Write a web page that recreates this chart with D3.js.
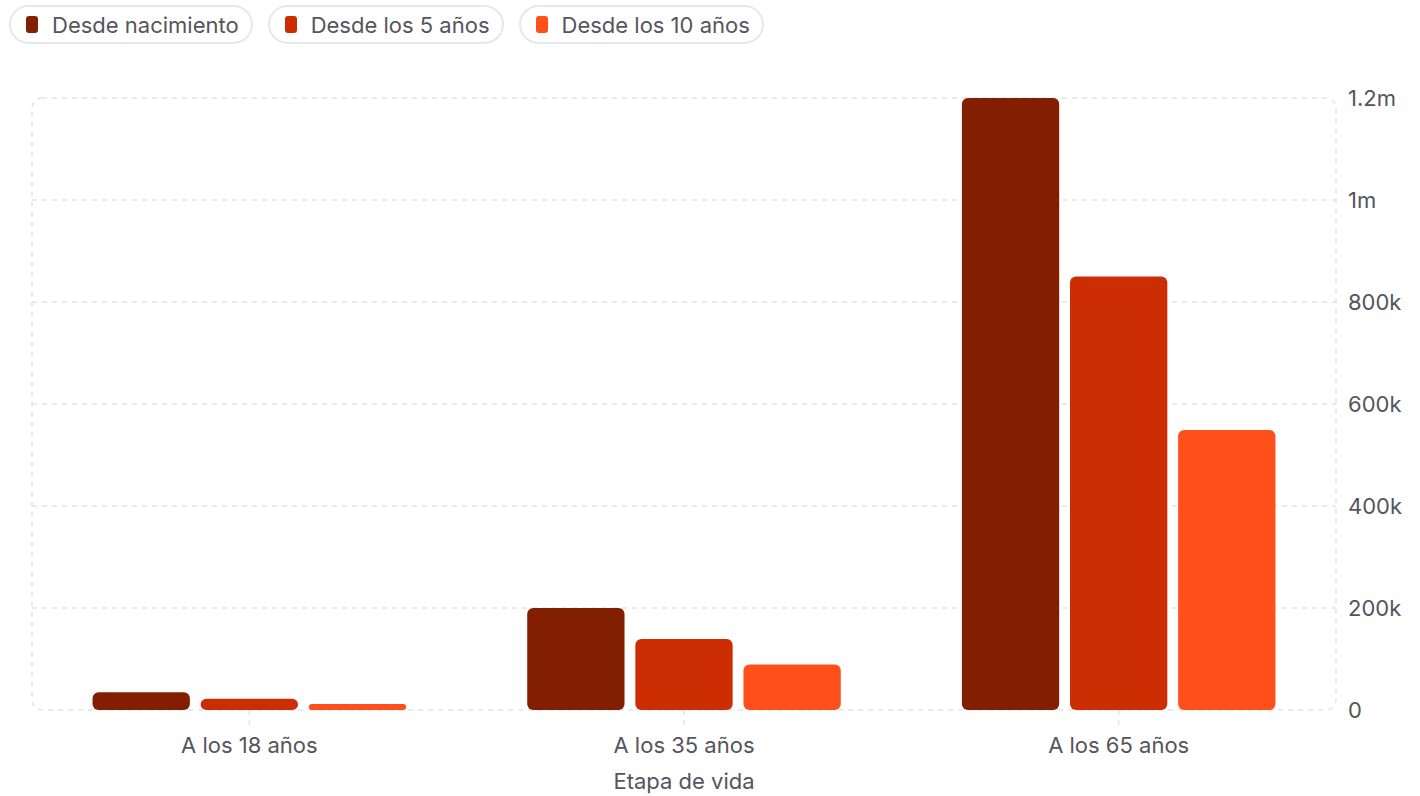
<!DOCTYPE html>
<html>
<head>
<meta charset="utf-8">
<script src="https://cdn.jsdelivr.net/npm/d3@7"></script>
<style>
  body { margin: 0; background: #fff; font-family: Inter, "Noto Sans", sans-serif; }
  #legend { position: absolute; left: 9px; top: 5px; display: flex; gap: 15px; }
  .pill { display: flex; align-items: center; box-sizing: border-box; height: 39px; padding: 0 12px 0 15px;
          border: 2px solid #e8e8e8; border-radius: 20px; font-size: 22px; color: #55555b; }
  .sw { width: 12px; height: 17px; border-radius: 3px; margin-right: 14px; }
</style>
</head>
<body>
<div id="legend"></div>
<div id="chart"></div>
<script>
var categories = ["A los 18 años", "A los 35 años", "A los 65 años"];
var series = ["Desde nacimiento", "Desde los 5 años", "Desde los 10 años"];
var colors = ["#821f00", "#cc2d02", "#ff501b"];
var desdeNacimiento = [35000, 200000, 1200000];
var desde5 = [22000, 139000, 850000];
var desde10 = [12000, 89000, 549000];
var yTicks = [0, 200000, 400000, 600000, 800000, 1000000, 1200000];
var yTickLabels = ["0", "200k", "400k", "600k", "800k", "1m", "1.2m"];

var values = [desdeNacimiento, desde5, desde10];

var width = 1420, height = 796,
    margin = {top: 98, right: 84, bottom: 86, left: 32},
    innerW = width - margin.left - margin.right,
    innerH = height - margin.top - margin.bottom;

// legend
var legend = d3.select("#legend").selectAll(".pill")
    .data(series).enter().append("div").attr("class", "pill");
legend.append("div").attr("class", "sw").style("background", function(d, i) { return colors[i]; });
legend.append("span").text(function(d) { return d; });

var svg = d3.select("#chart").append("svg")
    .attr("width", width).attr("height", height)
    .style("position", "absolute").style("left", 0).style("top", 0)
  .append("g")
    .attr("transform", "translate(" + margin.left + "," + margin.top + ")");

var x0 = d3.scaleBand().domain(categories).range([0, innerW]).padding(0);
var x1 = d3.scaleBand().domain(series).range([0, x0.bandwidth()])
    .paddingInner(0.1).paddingOuter(0.56);
var y = d3.scaleLinear().domain([0, 1200000]).range([innerH, 0]);

var gridColor = "#e4e4e7";

// horizontal grid lines
svg.selectAll(".grid").data(yTicks.slice(1, -1)).enter().append("line")
    .attr("x1", 0).attr("x2", innerW)
    .attr("y1", function(d) { return y(d); }).attr("y2", function(d) { return y(d); })
    .attr("stroke", gridColor).attr("stroke-width", 1.5).attr("stroke-dasharray", "5,5");

// plot frame
svg.append("rect")
    .attr("x", 0).attr("y", 0).attr("width", innerW).attr("height", innerH)
    .attr("rx", 10).attr("fill", "none")
    .attr("stroke", gridColor).attr("stroke-width", 1.5).attr("stroke-dasharray", "5,5");

// x ticks
svg.selectAll(".xtick").data(categories).enter().append("line")
    .attr("x1", function(d) { return x0(d) + x0.bandwidth() / 2; })
    .attr("x2", function(d) { return x0(d) + x0.bandwidth() / 2; })
    .attr("y1", innerH).attr("y2", innerH + 16)
    .attr("stroke", gridColor).attr("stroke-width", 1.5).attr("stroke-dasharray", "5,5");

// bars
var groups = svg.selectAll(".cat").data(categories).enter().append("g")
    .attr("transform", function(d) { return "translate(" + x0(d) + ",0)"; });

groups.selectAll("path")
    .data(function(d, ci) { return series.map(function(s, si) { return {s: s, si: si, v: values[si][ci]}; }); })
    .enter().append("path")
    .attr("fill", function(d) { return colors[d.si]; })
    .attr("d", function(d) {
        var bx = x1(d.s), bw = x1.bandwidth(), by = y(d.v), bh = innerH - by;
        var r = Math.min(6, bh / 2, bw / 2);
        var p = d3.path();
        p.moveTo(bx + r, by);
        p.lineTo(bx + bw - r, by);
        p.arcTo(bx + bw, by, bx + bw, by + r, r);
        p.lineTo(bx + bw, by + bh - r);
        p.arcTo(bx + bw, by + bh, bx + bw - r, by + bh, r);
        p.lineTo(bx + r, by + bh);
        p.arcTo(bx, by + bh, bx, by + bh - r, r);
        p.lineTo(bx, by + r);
        p.arcTo(bx, by, bx + r, by, r);
        p.closePath();
        return p.toString();
    });

// y labels
svg.selectAll(".ylab").data(yTicks).enter().append("text")
    .attr("x", innerW + 12).attr("y", function(d) { return y(d); })
    .attr("dy", "0.35em")
    .attr("fill", "#55555b").style("font-size", "22px")
    .text(function(d, i) { return yTickLabels[i]; });

// x labels
svg.selectAll(".xlab").data(categories).enter().append("text")
    .attr("x", function(d) { return x0(d) + x0.bandwidth() / 2; })
    .attr("y", innerH + 35).attr("dy", "0.35em")
    .attr("text-anchor", "middle")
    .attr("fill", "#55555b").style("font-size", "22px")
    .text(function(d) { return d; });

svg.append("text")
    .attr("x", innerW / 2).attr("y", innerH + 71).attr("dy", "0.35em")
    .attr("text-anchor", "middle")
    .attr("fill", "#55555b").style("font-size", "22px")
    .text("Etapa de vida");
</script>
</body>
</html>
